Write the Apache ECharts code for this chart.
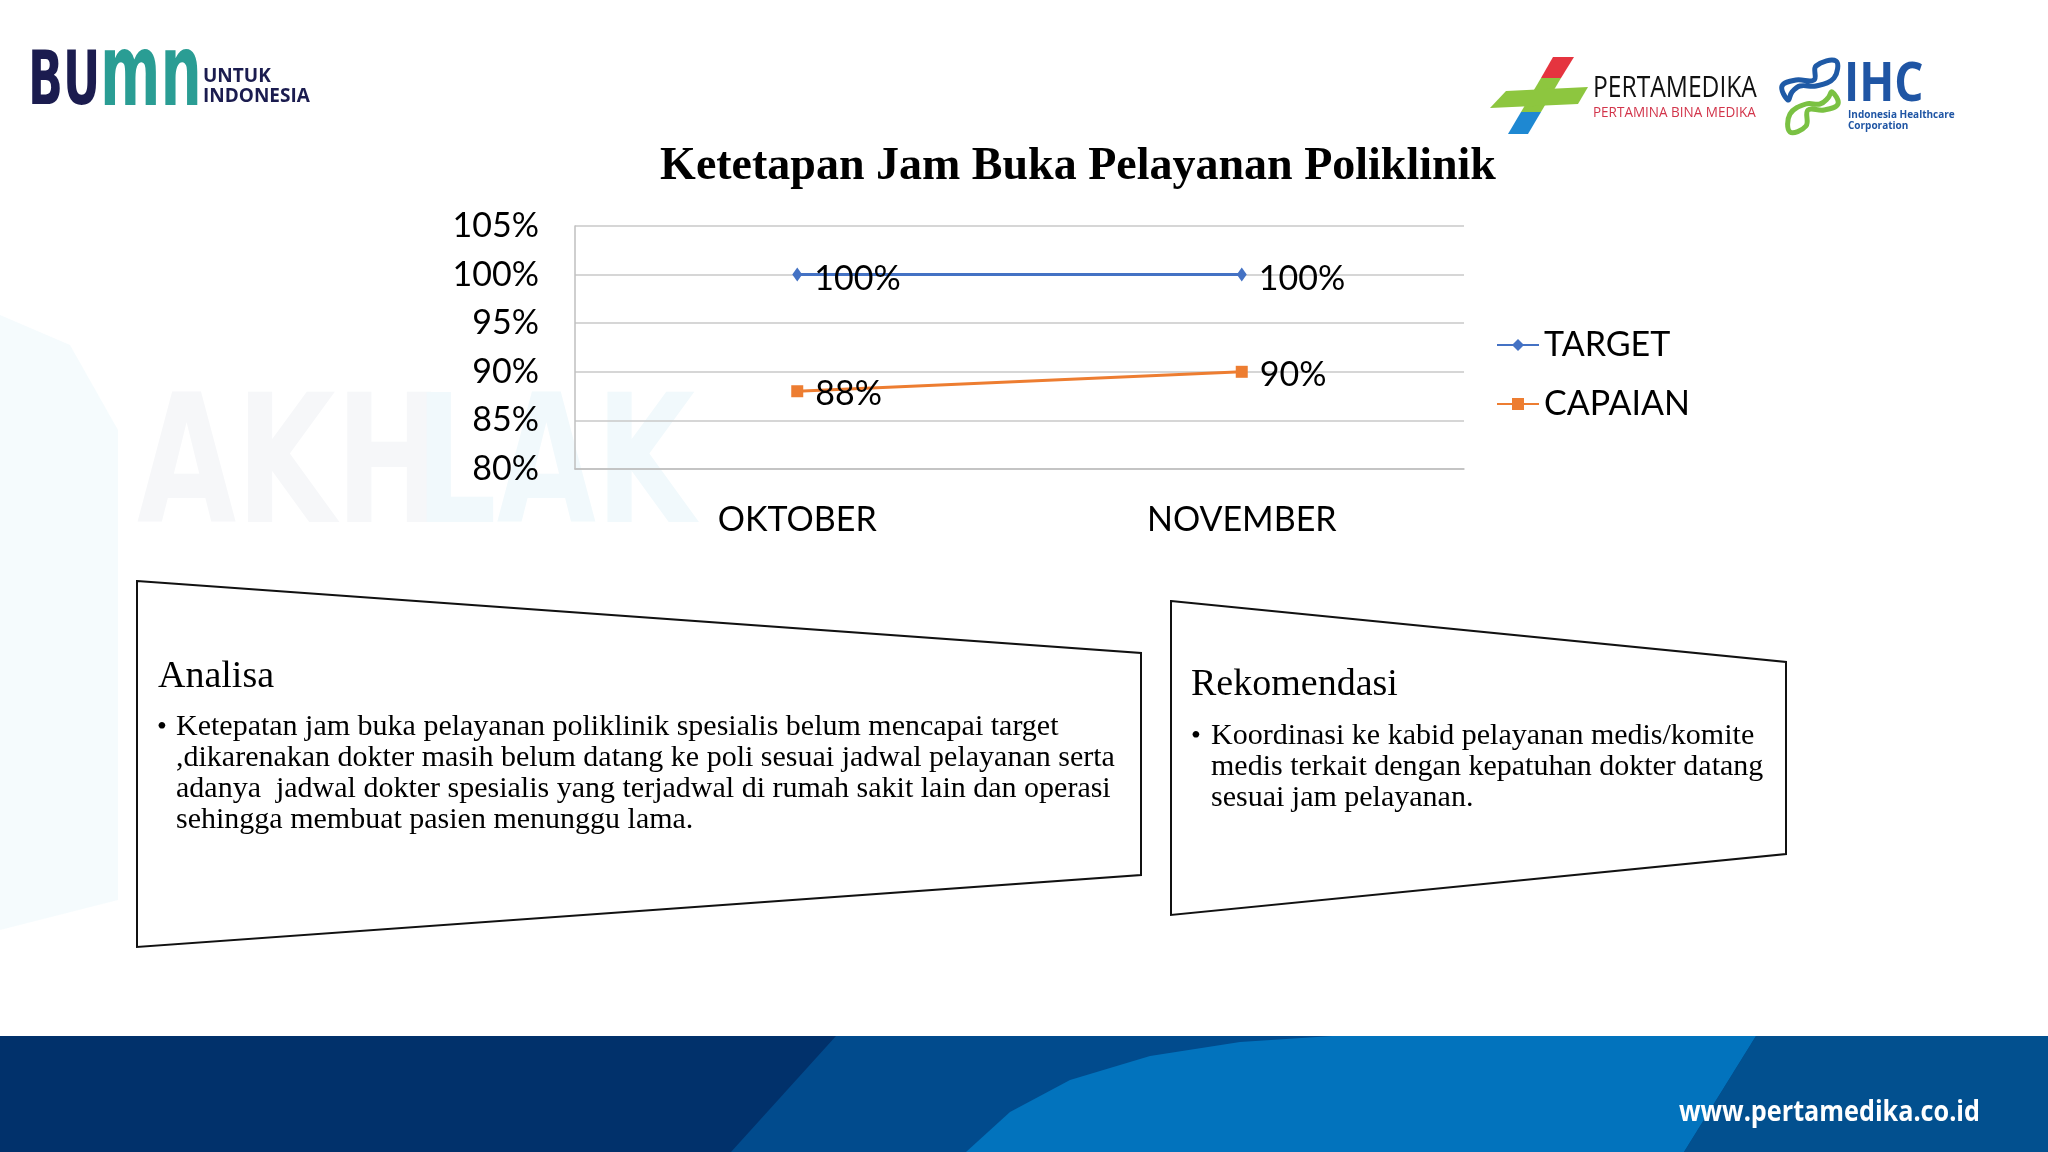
<!DOCTYPE html>
<html>
<head>
<meta charset="utf-8">
<title>Ketetapan Jam Buka Pelayanan Poliklinik</title>
<script src="https://cdn.jsdelivr.net/npm/echarts@6/dist/echarts.min.js"></script>
<style>
  html, body { margin: 0; padding: 0; background: #ffffff; }
  #chart { width: 2048px; height: 1152px; }
</style>
</head>
<body>
<div id="chart"></div>
<script>
// data
const months = ['OKTOBER', 'NOVEMBER'];
const targetValues = [100, 100];
const capaianValues = [88, 90];
const seriesNames = ['TARGET', 'CAPAIAN'];
const yMin = 80;
const yMax = 105;
const yStep = 5;

// texts of the slide
const chartTitle = 'Ketetapan Jam Buka Pelayanan Poliklinik';
const analisaTitle = 'Analisa';
const analisaLines = [
  'Ketepatan jam buka pelayanan poliklinik spesialis belum mencapai target',
  ',dikarenakan dokter masih belum datang ke poli sesuai jadwal pelayanan serta',
  'adanya  jadwal dokter spesialis yang terjadwal di rumah sakit lain dan operasi',
  'sehingga membuat pasien menunggu lama.'
];
const rekomTitle = 'Rekomendasi';
const rekomLines = [
  'Koordinasi ke kabid pelayanan medis/komite',
  'medis terkait dengan kepatuhan dokter datang',
  'sesuai jam pelayanan.'
];

const BLUE = '#4472C4';
const ORANGE = '#ED7D31';
const SERIF = '"Liberation Serif", "Times New Roman", serif';
const SANS = 'Lato, "Open Sans", sans-serif';

const chart = echarts.init(document.getElementById('chart'));

// decoration: background, logos, footer and the two text boxes
const graphics = [
  // faint watermark on the left
  { type: 'polygon', z: -10, shape: { points: [[0, 315], [70, 345], [118, 430], [118, 900], [0, 930]] },
    style: { fill: 'rgba(225,244,250,0.35)' } },
  { type: 'text', z: -9, x: 137, y: 476, scaleX: 0.72,
    style: { text: 'AKH', fill: '#f6f7f9', font: 'bold 178px "DejaVu Sans"', verticalAlign: 'middle' } },
  { type: 'text', z: -9, x: 415, y: 476, scaleX: 0.72,
    style: { text: 'LAK', fill: '#f1f9fc', font: 'bold 178px "DejaVu Sans"', verticalAlign: 'middle' } },

  // BUMN logo
  { type: 'text', x: 28, y: 85, scaleX: 0.62,
    style: { text: 'BU', fill: '#1b1c4f', font: 'bold 74px "DejaVu Sans"', verticalAlign: 'middle' } },
  { type: 'text', x: 100, y: 79, scaleX: 0.58,
    style: { text: 'mn', fill: '#2a9d94', font: 'bold 100px "DejaVu Sans"', verticalAlign: 'middle' } },
  { type: 'text', x: 203, y: 77,
    style: { text: 'UNTUK', fill: '#1b1c4f', font: 'bold 19px "Open Sans"', verticalAlign: 'middle' } },
  { type: 'text', x: 203, y: 97,
    style: { text: 'INDONESIA', fill: '#1b1c4f', font: 'bold 19px "Open Sans"', verticalAlign: 'middle' } },

  // Pertamedika logo
  { type: 'polygon', shape: { points: [[1553, 57], [1574, 57], [1561, 78], [1541, 78]] }, style: { fill: '#e5343f' } },
  { type: 'polygon', shape: { points: [[1541, 78], [1561, 78], [1541, 112], [1521, 112]] }, style: { fill: '#8dc63f' } },
  { type: 'polygon', shape: { points: [[1506, 91], [1588, 87], [1578, 104], [1490, 108]] }, style: { fill: '#8dc63f' } },
  { type: 'polygon', shape: { points: [[1521, 112], [1541, 112], [1528, 134], [1508, 134]] }, style: { fill: '#1e88d2' } },
  { type: 'text', x: 1593, y: 88, scaleX: 0.82,
    style: { text: 'PERTAMEDIKA', fill: '#111111', font: '30px "Open Sans"', verticalAlign: 'middle' } },
  { type: 'text', x: 1593, y: 113, scaleX: 0.9,
    style: { text: 'PERTAMINA BINA MEDIKA', fill: '#d2344a', font: '15px "Open Sans"', verticalAlign: 'middle' } },

  // IHC logo
  { type: 'polygon', shape: { smooth: 0.4, points: [[1788, 100], [1782, 86], [1796, 80], [1814, 80], [1816, 66], [1836, 61], [1834, 78], [1816, 86], [1800, 86], [1792, 92]] },
    style: { fill: 'none', stroke: '#1f5aa6', lineWidth: 5 } },
  { type: 'polygon', shape: { smooth: 0.4, points: [[1832, 92], [1838, 104], [1824, 110], [1808, 110], [1806, 126], [1790, 132], [1790, 114], [1806, 104], [1820, 104], [1828, 98]] },
    style: { fill: 'none', stroke: '#7ac143', lineWidth: 5 } },
  { type: 'text', x: 1844, y: 86, scaleX: 0.85,
    style: { text: 'IHC', fill: '#1f55a4', font: 'bold 54px "Open Sans"', verticalAlign: 'middle' } },
  { type: 'text', x: 1848, y: 115,
    style: { text: 'Indonesia Healthcare', fill: '#1f55a4', font: 'bold 10px "Open Sans"', verticalAlign: 'middle' } },
  { type: 'text', x: 1848, y: 126,
    style: { text: 'Corporation', fill: '#1f55a4', font: 'bold 10px "Open Sans"', verticalAlign: 'middle' } },

  // Analisa box
  { type: 'polygon', shape: { points: [[137, 581], [1141, 653], [1141, 875], [137, 947]] },
    style: { fill: 'rgba(255,255,255,0.6)', stroke: '#111111', lineWidth: 2 } },
  { type: 'text', x: 158, y: 677,
    style: { text: analisaTitle, fill: '#000', font: '38px ' + SERIF, verticalAlign: 'middle' } },
  { type: 'text', x: 157, y: 728,
    style: { text: '•', fill: '#000', font: '28px ' + SERIF, verticalAlign: 'middle' } },
  { type: 'text', x: 176, y: 712,
    style: { text: analisaLines.join('\n'), fill: '#000', font: '30px ' + SERIF, lineHeight: 31, verticalAlign: 'top' } },

  // Rekomendasi box
  { type: 'polygon', shape: { points: [[1171, 601], [1786, 662], [1786, 854], [1171, 915]] },
    style: { fill: 'rgba(255,255,255,0.6)', stroke: '#111111', lineWidth: 2 } },
  { type: 'text', x: 1191, y: 685,
    style: { text: rekomTitle, fill: '#000', font: '38px ' + SERIF, verticalAlign: 'middle' } },
  { type: 'text', x: 1191, y: 737,
    style: { text: '•', fill: '#000', font: '28px ' + SERIF, verticalAlign: 'middle' } },
  { type: 'text', x: 1211, y: 721,
    style: { text: rekomLines.join('\n'), fill: '#000', font: '30px ' + SERIF, lineHeight: 31, verticalAlign: 'top' } },

  // footer band
  { type: 'rect', z: -5, shape: { x: 0, y: 1036, width: 2048, height: 116 }, style: { fill: '#01316b' } },
  { type: 'polygon', z: -4, shape: { points: [[836, 1036], [2048, 1036], [2048, 1152], [731, 1152]] }, style: { fill: '#014b8d' } },
  { type: 'polygon', z: -3, shape: { points: [[966, 1152], [1010, 1112], [1070, 1080], [1150, 1056], [1240, 1042], [1332, 1036], [1756, 1036], [1684, 1152]] },
    style: { fill: '#0273bd' } },
  { type: 'polygon', z: -2, shape: { points: [[1756, 1036], [2048, 1036], [2048, 1152], [1684, 1152]] }, style: { fill: '#02508f' } },
  { type: 'text', x: 1980, y: 1113, scaleX: 0.9,
    style: { text: 'www.pertamedika.co.id', fill: '#ffffff', font: 'bold 28px "Open Sans"', align: 'right', verticalAlign: 'middle' } }
];

chart.setOption({
  backgroundColor: '#ffffff',
  animation: false,
  title: {
    text: chartTitle,
    left: 1073,
    top: 139,
    textAlign: 'center',
    textStyle: { fontFamily: SERIF, fontWeight: 'bold', fontSize: 46, color: '#000' }
  },
  legend: {
    data: seriesNames,
    orient: 'vertical',
    left: 1491,
    top: 320,
    itemWidth: 42,
    itemHeight: 15,
    itemGap: 19,
    textStyle: { fontFamily: SANS, fontSize: 34, color: '#000', lineHeight: 40 }
  },
  grid: { left: 575, right: 584, top: 226, bottom: 683 },
  xAxis: {
    type: 'category',
    data: months,
    boundaryGap: true,
    axisLine: { lineStyle: { color: '#bfbfbf', width: 1.5 } },
    axisTick: { show: false },
    axisLabel: { fontFamily: SANS, fontSize: 34, color: '#000', margin: 34 }
  },
  yAxis: {
    type: 'value',
    min: yMin,
    max: yMax,
    interval: yStep,
    axisLine: { show: true, lineStyle: { color: '#bfbfbf', width: 1.5 } },
    axisTick: { show: false },
    splitLine: { lineStyle: { color: '#c8c8c8', width: 1.5 } },
    axisLabel: { fontFamily: SANS, fontSize: 34, color: '#000', margin: 36, formatter: '{value}%' }
  },
  series: [
    {
      name: seriesNames[0],
      type: 'line',
      data: targetValues,
      symbol: 'diamond',
      symbolSize: [10, 14],
      lineStyle: { color: BLUE, width: 3 },
      itemStyle: { color: BLUE },
      label: { show: true, position: 'right', distance: 12, offset: [0, 4], formatter: '{c}%',
        fontFamily: SANS, fontSize: 34, color: '#000' }
    },
    {
      name: seriesNames[1],
      type: 'line',
      data: capaianValues,
      symbol: 'rect',
      symbolSize: 12,
      lineStyle: { color: ORANGE, width: 3 },
      itemStyle: { color: ORANGE },
      label: { show: true, position: 'right', distance: 12, offset: [0, 3], formatter: '{c}%',
        fontFamily: SANS, fontSize: 34, color: '#000' }
    }
  ],
  graphic: graphics
});
</script>
</body>
</html>
